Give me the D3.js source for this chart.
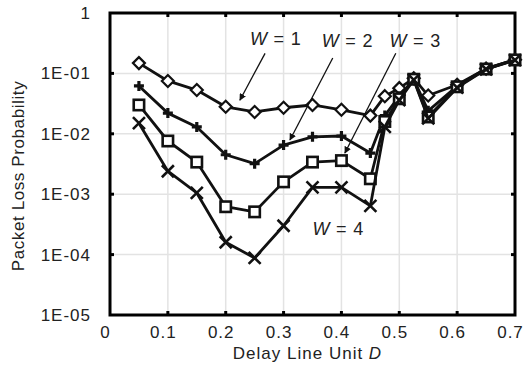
<!DOCTYPE html>
<html>
<head>
<meta charset="utf-8">
<script src="https://cdn.jsdelivr.net/npm/d3@7/dist/d3.min.js"></script>
<style>
  html, body { margin: 0; padding: 0; background: #fff; }
  svg { display: block; }
  text { font-family: "Liberation Sans", Arial, sans-serif; fill: #222; }
</style>
</head>
<body>
<svg id="chart" width="525" height="367"></svg>
<script>
// Delay line unit D (x positions of the samples)
const delays = [0.05, 0.1, 0.15, 0.2, 0.25, 0.3, 0.35, 0.4, 0.45, 0.475, 0.5, 0.525, 0.55, 0.6, 0.65, 0.7];

// Packet loss probability per buffer width W
const lossW1 = [0.148, 0.075, 0.053, 0.028, 0.023, 0.027, 0.030, 0.025, 0.020, 0.042, 0.057, 0.083, 0.043, 0.065, 0.120, 0.168];
const lossW2 = [0.062, 0.022, 0.013, 0.0045, 0.0032, 0.0065, 0.0089, 0.0092, 0.0048, 0.020, 0.042, 0.080, 0.024, 0.062, 0.120, 0.168];
const lossW3 = [0.030, 0.0076, 0.0034, 0.00062, 0.00051, 0.0016, 0.0034, 0.0036, 0.0018, 0.016, 0.038, 0.080, 0.019, 0.060, 0.118, 0.167];
const lossW4 = [0.015, 0.0024, 0.00105, 0.00016, 0.000088, 0.00030, 0.0013, 0.0013, 0.00064, 0.013, 0.036, 0.078, 0.018, 0.058, 0.117, 0.166];

const seriesNames = ["W = 1", "W = 2", "W = 3", "W = 4"];
const seriesMarkers = ["diamond", "plus", "square", "cross"];

// Axis ticks
const xTicks = [0, 0.1, 0.2, 0.3, 0.4, 0.5, 0.6, 0.7];
const yTicks = [1, 1e-1, 1e-2, 1e-3, 1e-4, 1e-5];
const yTickLabels = ["1", "1E-01", "1E-02", "1E-03", "1E-04", "1E-05"];

const xTitle = "Delay Line Unit ";
const xTitleVar = "D";
const yTitle = "Packet Loss Probability";

// Series labels with leader arrows: label anchor, arrow start and tip in data units
const labelAt = [[0.242, 0.3], [0.366, 0.27], [0.483, 0.27], [0.35, 0.00021]];
const arrowFrom = [[0.268, 0.215], [0.385, 0.18], [0.494, 0.215], null];
const arrowTo = [[0.2245, 0.036], [0.311, 0.0079], [0.406, 0.0048], null];

const margin = { left: 110, right: 10, top: 13, bottom: 52 };
const width = 525, height = 367;
const svg = d3.select("#chart");

const x = d3.scaleLinear().domain([0, 0.7]).range([margin.left, width - margin.right]);
const y = d3.scaleLog().domain([1e-5, 1]).range([height - margin.bottom, margin.top]);

const x0 = x.range()[0], x1 = x.range()[1];
const y0 = y.range()[0], y1 = y.range()[1];

// gridlines
const grid = svg.append("g").attr("stroke", "#e3e3e3").attr("stroke-width", 1.5);
grid.selectAll("line.v").data(xTicks.slice(1, -1)).join("line")
  .attr("x1", d => x(d)).attr("x2", d => x(d)).attr("y1", y1).attr("y2", y0);
grid.selectAll("line.h").data(yTicks.slice(1, -1)).join("line")
  .attr("x1", x0).attr("x2", x1).attr("y1", d => y(d)).attr("y2", d => y(d));

// axes with labels
const fontSize = 17;
const xAxis = svg.append("g").attr("transform", `translate(0,${y0})`)
  .call(d3.axisBottom(x).tickValues(xTicks).tickSize(0).tickPadding(11).tickFormat(d3.format("")));
xAxis.select(".domain").remove();
xAxis.selectAll("text").attr("font-size", fontSize).attr("letter-spacing", 1).attr("dx", -5).attr("fill", "#222")
  .attr("font-family", "Liberation Sans, Arial, sans-serif");

const yAxis = svg.append("g").attr("transform", `translate(${x0},0)`)
  .call(d3.axisLeft(y).tickValues(yTicks).tickSize(0).tickPadding(19)
    .tickFormat((d, i) => yTickLabels[yTicks.indexOf(d)]));
yAxis.select(".domain").remove();
yAxis.selectAll("text").attr("font-size", fontSize).attr("letter-spacing", 1).attr("fill", "#222")
  .attr("font-family", "Liberation Sans, Arial, sans-serif");

// inner tick marks on all four sides
const tickLen = 4;
const ticks = svg.append("g").attr("stroke", "#000").attr("stroke-width", 3);
xTicks.slice(1, -1).forEach(d => {
  ticks.append("line").attr("x1", x(d)).attr("x2", x(d)).attr("y1", y0).attr("y2", y0 - tickLen);
  ticks.append("line").attr("x1", x(d)).attr("x2", x(d)).attr("y1", y1).attr("y2", y1 + tickLen);
});
yTicks.slice(1, -1).forEach(d => {
  ticks.append("line").attr("x1", x0).attr("x2", x0 + tickLen).attr("y1", y(d)).attr("y2", y(d));
  ticks.append("line").attr("x1", x1).attr("x2", x1 - tickLen).attr("y1", y(d)).attr("y2", y(d));
});

// plot frame
svg.append("rect").attr("x", x0).attr("y", y1).attr("width", x1 - x0).attr("height", y0 - y1)
  .attr("fill", "none").attr("stroke", "#000").attr("stroke-width", 3);

// axis titles
const xt = svg.append("text").attr("x", (x0 + x1) / 2 - 5).attr("y", height - 8)
  .attr("text-anchor", "middle").attr("font-size", 17).attr("letter-spacing", 1);
xt.append("tspan").text(xTitle);
xt.append("tspan").attr("font-style", "italic").text(xTitleVar);

svg.append("text").attr("transform", `translate(24,${(y0 + y1) / 2 + 12}) rotate(-90)`)
  .attr("text-anchor", "middle").attr("font-size", 17).attr("letter-spacing", 0.6).text(yTitle);

// series lines and markers
const allSeries = [lossW1, lossW2, lossW3, lossW4];
const line = d3.line().x(d => x(d[0])).y(d => y(d[1]));

function drawMarker(g, kind, px, py) {
  if (kind === "diamond") {
    const r = 6;
    g.append("path").attr("d", `M${px},${py - r}L${px + r},${py}L${px},${py + r}L${px - r},${py}Z`)
      .attr("fill", "#fff").attr("stroke", "#111").attr("stroke-width", 2.2);
  } else if (kind === "square") {
    const r = 5.2;
    g.append("rect").attr("x", px - r).attr("y", py - r).attr("width", 2 * r).attr("height", 2 * r)
      .attr("fill", "#fff").attr("stroke", "#111").attr("stroke-width", 2.6);
  } else if (kind === "plus") {
    const r = 5;
    g.append("path").attr("d", `M${px - r},${py}H${px + r}M${px},${py - r}V${py + r}`)
      .attr("stroke", "#111").attr("stroke-width", 3.2);
  } else if (kind === "cross") {
    const r = 6;
    g.append("path").attr("d", `M${px - r},${py - r}L${px + r},${py + r}M${px - r},${py + r}L${px + r},${py - r}`)
      .attr("stroke", "#111").attr("stroke-width", 2.6);
  }
}

allSeries.forEach((vals, si) => {
  const pts = delays.map((d, i) => [d, vals[i]]);
  const g = svg.append("g");
  g.append("path").datum(pts).attr("d", line)
    .attr("fill", "none").attr("stroke", "#111").attr("stroke-width", 2.8).attr("stroke-linejoin", "round");
  pts.forEach(p => drawMarker(g, seriesMarkers[si], x(p[0]), y(p[1])));
});

// series labels and arrows
svg.append("defs").append("marker").attr("id", "arrowHead")
  .attr("viewBox", "0 0 10 10").attr("refX", 9).attr("refY", 5)
  .attr("markerWidth", 7).attr("markerHeight", 7).attr("markerUnits", "userSpaceOnUse")
  .attr("orient", "auto")
  .append("path").attr("d", "M0,0L10,5L0,10Z").attr("fill", "#111");

seriesNames.forEach((name, i) => {
  const [lx, ly] = labelAt[i];
  const t = svg.append("text").attr("x", x(lx)).attr("y", y(ly)).attr("font-size", 18).attr("letter-spacing", 0.8);
  const parts = name.split(" ");
  t.append("tspan").attr("font-style", "italic").text(parts[0]);
  t.append("tspan").text(" " + parts.slice(1).join(" "));
  if (arrowFrom[i]) {
    svg.append("line")
      .attr("x1", x(arrowFrom[i][0])).attr("y1", y(arrowFrom[i][1]))
      .attr("x2", x(arrowTo[i][0])).attr("y2", y(arrowTo[i][1]))
      .attr("stroke", "#111").attr("stroke-width", 1.3).attr("marker-end", "url(#arrowHead)");
  }
});
</script>
</body>
</html>
